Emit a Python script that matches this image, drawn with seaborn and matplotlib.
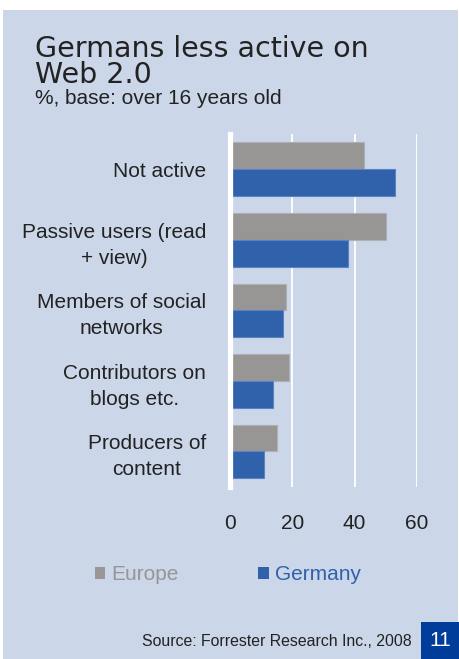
import matplotlib
matplotlib.use("Agg")
import matplotlib.pyplot as plt
from matplotlib.patches import Rectangle
import seaborn as sns
import pandas as pd

# Survey shares (%) by activity type
categories = [
    "Not active",
    "Passive users (read\n+ view)",
    "Members of social\nnetworks",
    "Contributors on\nblogs etc.",
    "Producers of\ncontent",
]
europe = [43, 50, 18, 19, 15]
germany = [53, 38, 17, 14, 11]
series_names = ["Europe", "Germany"]
x_ticks = [0, 20, 40, 60]

PANEL = "#CBD6E9"
GREY = "#979694"
BLUE = "#3061AB"
NAVY = "#003C9A"
TEXT = "#222222"
EDGES = ["#AEB0B4", "#5A82C4"]

df = pd.DataFrame({
    "category": categories * 2,
    "value": europe + germany,
    "region": [series_names[0]] * len(categories) + [series_names[1]] * len(categories),
})

sns.set_theme(style="white")
plt.rcParams["font.family"] = ["Liberation Sans", "DejaVu Sans"]

W, H = 459, 659
fig = plt.figure(figsize=(W / 100, H / 100), dpi=100, facecolor="white")

def fx(px):
    return px / W

def fy(py):
    return 1 - py / H

# light blue panel behind everything
fig.patches.append(Rectangle((fx(3), 0), fx(458) - fx(3), fy(10), transform=fig.transFigure,
                             facecolor=PANEL, edgecolor="none", zorder=-2))
# page-number box
fig.patches.append(Rectangle((fx(421), 0), 1 - fx(421), fy(621.7), transform=fig.transFigure,
                             facecolor=NAVY, edgecolor="none", zorder=-1))

ax = fig.add_axes([fx(229.7), fy(486.7), fx(417) - fx(229.7), fy(134) - fy(486.7)])
ax.set_facecolor(PANEL)

sns.barplot(data=df, y="category", x="value", hue="region", orient="h",
            palette=[GREY, BLUE], saturation=1, width=0.76, ax=ax)
for cont, ec in zip(ax.containers, EDGES):
    for bar in cont:
        bar.set_edgecolor(ec)
        bar.set_linewidth(0.8)

ax.set_xlim(0, 60)
ax.set_xticks(x_ticks)
ax.set_xlabel("")
ax.set_ylabel("")
ax.grid(axis="x", color="white", linewidth=1.3)
ax.grid(axis="y", visible=False)
ax.set_axisbelow(True)
for side in ["top", "right", "bottom"]:
    ax.spines[side].set_visible(False)
ax.spines["left"].set_color("white")
ax.spines["left"].set_linewidth(3.8)
ax.spines["left"].set_zorder(5)

ax.tick_params(axis="x", length=0, pad=20, labelsize=15, labelcolor=TEXT)
ax.tick_params(axis="y", length=0, pad=17, labelsize=15, labelcolor=TEXT)
for lab in ax.get_yticklabels():
    lab.set_multialignment("center")
    lab.set_linespacing(1.45)

sns.move_legend(ax, "center left", bbox_to_anchor=(fx(95), fy(575)),
                bbox_transform=fig.transFigure, ncol=2, frameon=False, title=None,
                fontsize=15, handlelength=0.5, handleheight=0.5, handletextpad=0.3,
                columnspacing=3.8, borderpad=0, borderaxespad=0,
                labelcolor=[GREY, BLUE])
for h in ax.get_legend().legend_handles:
    h.set_edgecolor("none")

# titles
fig.text(fx(35), fy(57), "Germans less active on", fontsize=20.5, color=TEXT,
         family="DejaVu Sans", va="baseline", ha="left")
fig.text(fx(35), fy(83), "Web 2.0", fontsize=20.5, color=TEXT,
         family="DejaVu Sans", va="baseline", ha="left")
fig.text(fx(35), fy(104), "%, base: over 16 years old", fontsize=15, color=TEXT,
         va="baseline", ha="left")

# source and page number
fig.text(fx(412), fy(646), "Source: Forrester Research Inc., 2008", fontsize=11.4,
         color=TEXT, va="baseline", ha="right")
fig.text(fx(440), fy(641), "11", fontsize=15, color="white", va="center", ha="center")

fig.savefig("out.png", dpi=100, facecolor="white")
